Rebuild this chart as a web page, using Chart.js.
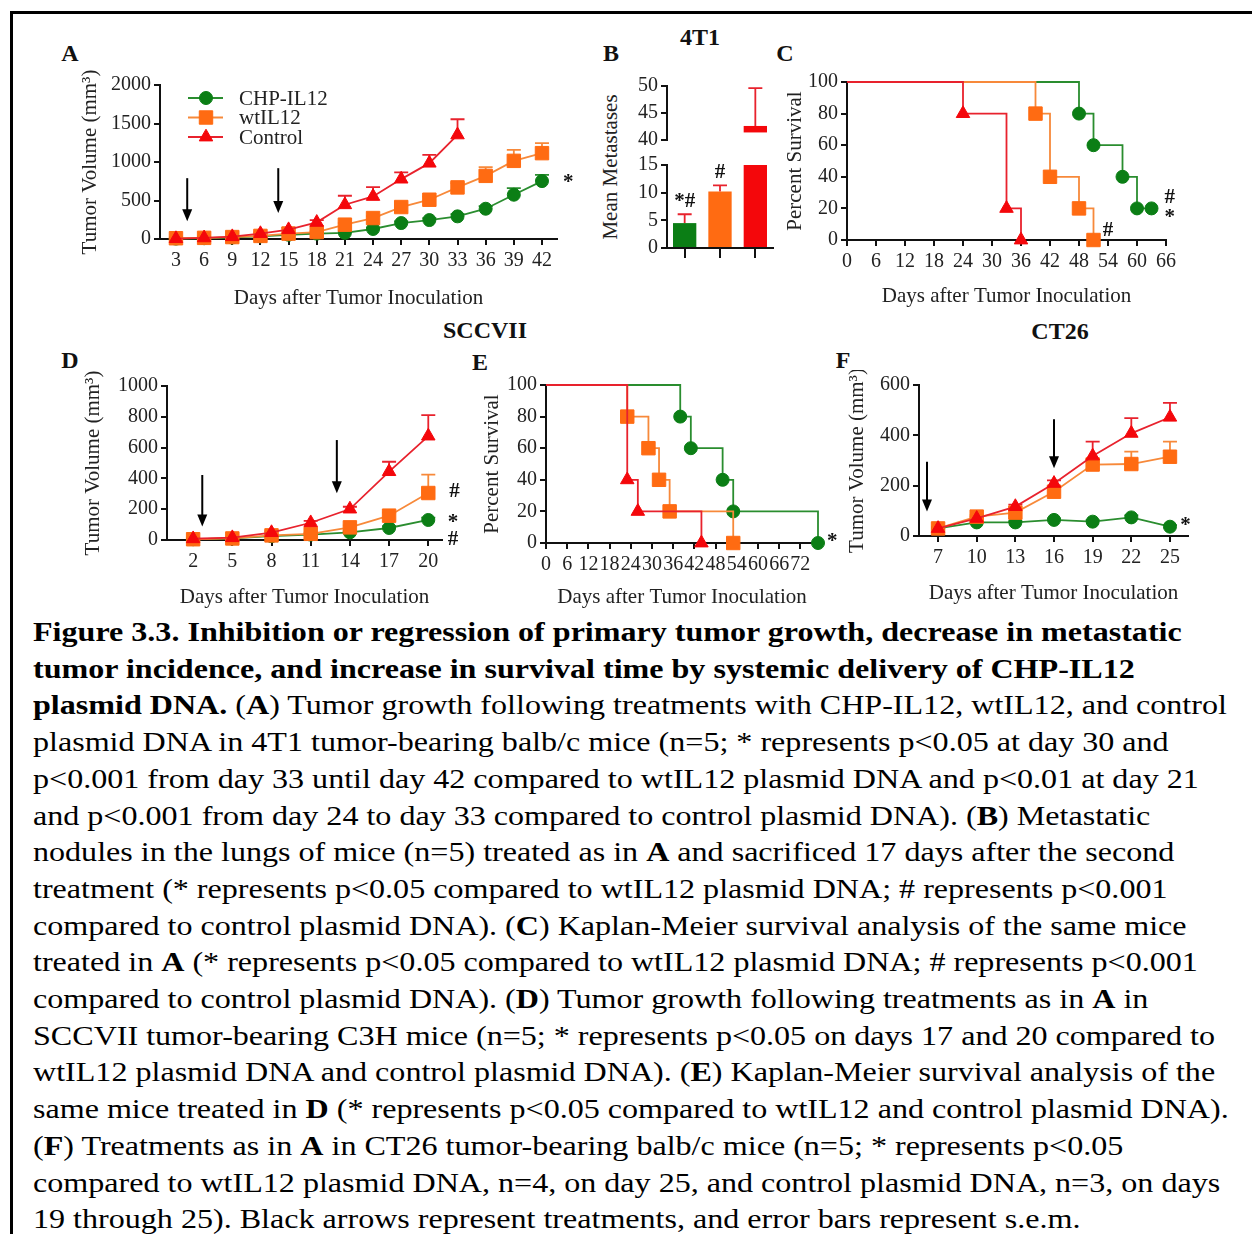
<!DOCTYPE html>
<html lang="en">
<head>
<meta charset="UTF-8">
<title>Figure 3.3</title>
<script src="https://cdn.jsdelivr.net/npm/chart.js"></script>
<style>
  body { margin: 0; background: #fff; overflow: hidden; width: 1252px; height: 1234px; position: relative;
         font-family: "Liberation Serif", "Times New Roman", serif; color: #111; }
  .frame { position: absolute; left: 10px; top: 11px; width: 1400px; height: 1400px;
           border-left: 3px solid #000; border-top: 3px solid #000; }
  canvas { position: absolute; }
  .lbl { position: absolute; font-weight: bold; font-size: 24px; transform: translate(-50%, -50%); white-space: nowrap; }
  .ytitle { position: absolute; font-size: 21px; color: #222; transform: translate(-50%, -50%) rotate(-90deg); white-space: nowrap; }
  .caption { position: absolute; left: 33px; top: 614px; font-size: 27px; line-height: 36.7px; white-space: nowrap; color: #000;
             transform: scaleX(1.188); transform-origin: 0 0; }
</style>
</head>
<body>
<div class="frame"></div>

<div class="lbl" style="left:70px;top:53px">A</div>
<div class="lbl" style="left:611px;top:53px">B</div>
<div class="lbl" style="left:700px;top:37px">4T1</div>
<div class="lbl" style="left:785px;top:53px">C</div>
<div class="lbl" style="left:485px;top:330px">SCCVII</div>
<div class="lbl" style="left:70px;top:360px">D</div>
<div class="lbl" style="left:480px;top:362px">E</div>
<div class="lbl" style="left:1060px;top:331px">CT26</div>
<div class="lbl" style="left:843px;top:360px">F</div>
<div class="ytitle" style="left:610px;top:167px">Mean Metastases</div>

<canvas id="chartA"></canvas>
<canvas id="chartBup"></canvas>
<canvas id="chartBlow"></canvas>
<canvas id="chartC"></canvas>
<canvas id="chartD"></canvas>
<canvas id="chartE"></canvas>
<canvas id="chartF"></canvas>

<div class="caption">
<div><b>Figure 3.3. Inhibition or regression of primary tumor growth, decrease in metastatic</b></div>
<div><b>tumor incidence, and increase in survival time by systemic delivery of CHP-IL12</b></div>
<div><b>plasmid DNA.</b> (<b>A</b>) Tumor growth following treatments with CHP-IL12, wtIL12, and control</div>
<div>plasmid DNA in 4T1 tumor-bearing balb/c mice (n=5; * represents p&lt;0.05 at day 30 and</div>
<div>p&lt;0.001 from day 33 until day 42 compared to wtIL12 plasmid DNA and p&lt;0.01 at day 21</div>
<div>and p&lt;0.001 from day 24 to day 33 compared to control plasmid DNA). (<b>B</b>) Metastatic</div>
<div>nodules in the lungs of mice (n=5) treated as in <b>A</b> and sacrificed 17 days after the second</div>
<div>treatment (* represents p&lt;0.05 compared to wtIL12 plasmid DNA; # represents p&lt;0.001</div>
<div>compared to control plasmid DNA). (<b>C</b>) Kaplan-Meier survival analysis of the same mice</div>
<div>treated in <b>A</b> (* represents p&lt;0.05 compared to wtIL12 plasmid DNA; # represents p&lt;0.001</div>
<div>compared to control plasmid DNA). (<b>D</b>) Tumor growth following treatments as in <b>A</b> in</div>
<div>SCCVII tumor-bearing C3H mice (n=5; * represents p&lt;0.05 on days 17 and 20 compared to</div>
<div>wtIL12 plasmid DNA and control plasmid DNA). (<b>E</b>) Kaplan-Meier survival analysis of the</div>
<div>same mice treated in <b>D</b> (* represents p&lt;0.05 compared to wtIL12 and control plasmid DNA).</div>
<div>(<b>F</b>) Treatments as in <b>A</b> in CT26 tumor-bearing balb/c mice (n=5; * represents p&lt;0.05</div>
<div>compared to wtIL12 plasmid DNA, n=4, on day 25, and control plasmid DNA, n=3, on days</div>
<div>19 through 25). Black arrows represent treatments, and error bars represent s.e.m.</div>
</div>

<script>
    // ---------- data ----------
    const seriesNames = ['CHP-IL12', 'wtIL12', 'Control'];

    // A - 4T1 tumor volume
    const daysA = [3, 6, 9, 12, 15, 18, 21, 24, 27, 30, 33, 36, 39, 42];
    const chpA = [5, 10, 20, 35, 55, 70, 80, 130, 207, 246, 294, 393, 575, 752];
    const wtA = [10, 15, 25, 40, 70, 90, 186, 272, 415, 510, 670, 820, 1015, 1115];
    const ctlA = [5, 15, 30, 70, 121, 216, 445, 553, 778, 985, 1352];
    const chpSemA = [2, 3, 4, 6, 8, 10, 12, 18, 22, 25, 30, 35, 85, 82];
    const wtSemA = [3, 4, 5, 8, 10, 12, 20, 25, 30, 40, 55, 113, 143, 129];
    const ctlSemA = [3, 5, 8, 15, 25, 30, 117, 121, 86, 108, 203];
    const treatA = [4.2, 13.9];
    const yTicksA = [0, 500, 1000, 1500, 2000];

    // B - lung metastases
    const metMeans = [4.5, 10.2, 42.6];
    const metSem = [1.6, 1.1, 7.0];
    const yTicksBlow = [0, 5, 10, 15];
    const yTicksBup = [40, 45, 50];

    // C - 4T1 survival (Kaplan-Meier)
    const kmDaysChpC = [0, 48, 51, 57, 60, 63];
    const kmPctChpC = [100, 80, 60, 40, 20, 20];
    const kmDaysWtC = [0, 39, 42, 48, 51];
    const kmPctWtC = [100, 80, 40, 20, 0];
    const kmDaysCtlC = [0, 24, 33, 36];
    const kmPctCtlC = [100, 80, 20, 0];
    const xTicksC = [0, 6, 12, 18, 24, 30, 36, 42, 48, 54, 60, 66];
    const yTicksSurv = [0, 20, 40, 60, 80, 100];

    // D - SCCVII tumor volume
    const daysD = [2, 5, 8, 11, 14, 17, 20];
    const chpD = [5, 10, 25, 35, 50, 78, 130];
    const wtD = [5, 10, 30, 40, 82, 158, 305];
    const ctlD = [8, 15, 48, 112, 201, 444, 675];
    const chpSemD = [2, 3, 5, 6, 8, 12, 15];
    const wtSemD = [2, 3, 6, 8, 12, 20, 119];
    const ctlSemD = [2, 4, 8, 12, 15, 64, 136];
    const treatD = [2.7, 13.0];
    const yTicksD = [0, 200, 400, 600, 800, 1000];

    // E - SCCVII survival
    const kmDaysChpE = [0, 38, 41, 50, 53, 77];
    const kmPctChpE = [100, 80, 60, 40, 20, 0];
    const kmDaysWtE = [0, 23, 29, 32, 35, 53];
    const kmPctWtE = [100, 80, 60, 40, 20, 0];
    const kmDaysCtlE = [0, 23, 26, 44];
    const kmPctCtlE = [100, 40, 20, 0];
    const xTicksE = [0, 6, 12, 18, 24, 30, 36, 42, 48, 54, 60, 66, 72];

    // F - CT26 tumor volume
    const daysF = [7, 10, 13, 16, 19, 22, 25];
    const chpF = [30, 54, 54, 64, 57, 74, 37];
    const wtF = [30, 77, 93, 176, 284, 286, 315];
    const ctlF = [30, 70, 117, 209, 318, 408, 472];
    const chpSemF = [3, 5, 5, 6, 6, 8, 6];
    const wtSemF = [4, 6, 8, 12, 20, 49, 60];
    const ctlSemF = [4, 6, 8, 12, 57, 60, 57];
    const treatF = [6.14, 16.0];
    const yTicksF = [0, 200, 400, 600];

    // ---------- styles ----------
    const serif = '"Liberation Serif", "Times New Roman", serif';
    const tickFont = { family: serif, size: 20 };
    const GREEN = '#0b7e15', ORANGE = '#ff6b12', RED = '#f4070b';
    const GREEN_L = '#2a8d2f', ORANGE_L = '#f7893a', RED_L = '#e8222d';

    function fixedTicks(arr) {
        return s => { s.ticks = arr.map(v => ({ value: v })); };
    }

    function axis(min, max, ticks, title, titlePad, isY) {
        const a = {
            type: 'linear', min: min, max: max,
            afterBuildTicks: fixedTicks(ticks),
            grid: { display: true, drawOnChartArea: false, drawTicks: true, tickLength: 6, color: '#111', lineWidth: 2 },
            border: { display: true, color: '#111', width: 2 },
            ticks: { color: '#222', font: tickFont, padding: isY ? 3 : 4, maxRotation: 0, minRotation: 0, autoSkip: false, callback: v => String(v) }
        };
        if (title) {
            a.title = { display: true, text: title, color: '#222', font: { family: serif, size: 21 },
                        padding: isY ? { top: titlePad, bottom: 0 } : { top: 0, bottom: titlePad } };
        }
        return a;
    }

    function growth(label, xs, ys, sem, color, lineColor, style, r) {
        return {
            label: label,
            data: ys.map((y, i) => ({ x: xs[i], y: y })),
            sem: sem,
            borderColor: lineColor, backgroundColor: color, borderWidth: 1.8,
            pointStyle: style, pointRadius: r, pointBackgroundColor: color, pointBorderColor: color, pointBorderWidth: 1,
            clip: false
        };
    }

    function km(label, xs, ys, color, lineColor, style, r) {
        return {
            label: label,
            data: ys.map((y, i) => ({ x: xs[i], y: y })),
            stepped: true,
            borderColor: lineColor, backgroundColor: color, borderWidth: 1.8,
            pointStyle: style,
            pointRadius: ctx => ctx.dataIndex === 0 ? 0 : r,
            pointBackgroundColor: color, pointBorderColor: color, pointBorderWidth: 1,
            clip: false
        };
    }

    // ---------- plugins ----------
    const errorBars = {
        id: 'errorBars',
        beforeDatasetsDraw(chart) {
            const { ctx, chartArea: a } = chart;
            ctx.save();
            ctx.beginPath();
            ctx.rect(a.left - 30, a.top - 1, a.right - a.left + 60, a.bottom - a.top + 2);
            ctx.clip();
            chart.data.datasets.forEach((ds, i) => {
                if (!ds.sem) return;
                const meta = chart.getDatasetMeta(i);
                const ys = chart.scales[meta.yAxisID];
                meta.data.forEach((el, j) => {
                    const raw = ds.data[j];
                    const v = raw !== null && typeof raw === 'object' ? raw.y : raw;
                    if (v == null || !ds.sem[j]) return;
                    const y0 = ys.getPixelForValue(v), y1 = ys.getPixelForValue(v + ds.sem[j]);
                    ctx.strokeStyle = ds.errColor || ds.borderColor;
                    ctx.lineWidth = 1.8;
                    ctx.beginPath();
                    ctx.moveTo(el.x, y0); ctx.lineTo(el.x, y1);
                    ctx.moveTo(el.x - 7, y1); ctx.lineTo(el.x + 7, y1);
                    ctx.stroke();
                });
            });
            ctx.restore();
        }
    };

    function arrowPlugin(days, from, to) {
        return {
            id: 'arrows',
            afterDatasetsDraw(chart) {
                const { ctx, scales: { x, y } } = chart;
                ctx.save();
                ctx.strokeStyle = '#000'; ctx.fillStyle = '#000'; ctx.lineWidth = 2;
                days.forEach((d, i) => {
                    const px = x.getPixelForValue(d);
                    const y0 = y.getPixelForValue(from[i]), y1 = y.getPixelForValue(to[i]);
                    ctx.beginPath(); ctx.moveTo(px, y0); ctx.lineTo(px, y1 - 8); ctx.stroke();
                    ctx.beginPath(); ctx.moveTo(px - 5, y1 - 12); ctx.lineTo(px + 5, y1 - 12); ctx.lineTo(px, y1); ctx.closePath(); ctx.fill();
                });
                ctx.restore();
            }
        };
    }

    function marksPlugin(items) {
        return {
            id: 'marks',
            afterDraw(chart) {
                const { ctx, scales: { x, y } } = chart;
                ctx.save();
                ctx.fillStyle = '#111';
                ctx.font = 'bold 21px ' + serif;
                ctx.textAlign = 'center'; ctx.textBaseline = 'middle';
                items.forEach(m => ctx.fillText(m.text, x.getPixelForValue(m.x), y.getPixelForValue(m.y)));
                ctx.restore();
            }
        };
    }

    function legendPlugin(rows) {
        return {
            id: 'legendA',
            afterDraw(chart) {
                const { ctx, chartArea: a } = chart;
                ctx.save();
                rows.forEach((r, i) => {
                    const y = a.top + 13 + i * 19.5;
                    ctx.strokeStyle = r.line; ctx.lineWidth = 1.8;
                    ctx.beginPath(); ctx.moveTo(a.left + 28, y); ctx.lineTo(a.left + 63, y); ctx.stroke();
                    ctx.fillStyle = r.color; ctx.strokeStyle = r.color; ctx.lineWidth = 1;
                    Chart.helpers.drawPoint(ctx, { pointStyle: r.style, radius: r.r, rotation: 0, borderWidth: 1 }, a.left + 46, y);
                    ctx.fillStyle = '#222';
                    ctx.font = '21px ' + serif;
                    ctx.textAlign = 'left'; ctx.textBaseline = 'middle';
                    ctx.fillText(r.label, a.left + 79, y + 1);
                });
                ctx.restore();
            }
        };
    }

    // fixes canvas box and plot area (page pixels)
    function panel(id, box, area, config) {
        const cv = document.getElementById(id);
        cv.width = box.w; cv.height = box.h;
        cv.style.left = box.x + 'px'; cv.style.top = box.y + 'px';
        const o = config.options;
        o.responsive = false;
        o.animation = false;
        o.layout = { padding: { top: area.t - box.y, right: box.x + box.w - area.r, left: 0, bottom: 0 } };
        o.scales.y.afterFit = s => { s.width = area.l - box.x; };
        if (o.scales.x.display === false) o.layout.padding.bottom = box.y + box.h - area.b;
        else o.scales.x.afterFit = s => { s.height = box.y + box.h - area.b; };
        o.plugins = Object.assign({ legend: { display: false }, tooltip: { enabled: false } }, o.plugins || {});
        config.plugins = [errorBars].concat(config.plugins || []);
        return new Chart(cv, config);
    }

    const legendRows = [
        { label: seriesNames[0], color: GREEN, line: GREEN_L, style: 'circle', r: 6.5 },
        { label: seriesNames[1], color: ORANGE, line: ORANGE_L, style: 'rect', r: 9.5 },
        { label: seriesNames[2], color: RED, line: RED_L, style: 'triangle', r: 7.8 }
    ];

    // ---------- A ----------
    panel('chartA', { x: 60, y: 40, w: 530, h: 275 }, { l: 160, t: 85, r: 557, b: 239 }, {
        type: 'line',
        data: { datasets: [
            growth(seriesNames[2], daysA, ctlA, ctlSemA, RED, RED_L, 'triangle', 7.8),
            growth(seriesNames[1], daysA, wtA, wtSemA, ORANGE, ORANGE_L, 'rect', 9.5),
            growth(seriesNames[0], daysA, chpA, chpSemA, GREEN, GREEN_L, 'circle', 6.5)
        ] },
        options: { scales: {
            x: axis(1.3, 43.6, daysA, 'Days after Tumor Inoculation', 4, false),
            y: axis(0, 2000, yTicksA, 'Tumor Volume (mm³)', 18, true)
        } },
        plugins: [arrowPlugin(treatA, [790, 920], [230, 337]), marksPlugin([{ x: 44.8, y: 727, text: '*' }]), legendPlugin(legendRows)]
    });

    // ---------- B (broken axis: two stacked panels) ----------
    function barAxisX(show) {
        return {
            type: 'category', display: show, offset: true,
            grid: { display: true, offset: false, drawOnChartArea: false, drawTicks: true, tickLength: 10, color: '#111', lineWidth: 2 },
            border: { display: true, color: '#111', width: 2 },
            ticks: { display: true, callback: () => '', font: tickFont }
        };
    }
    const barColors = [GREEN, ORANGE, RED];
    const errColors = [GREEN_L, ORANGE_L, RED_L];

    panel('chartBlow', { x: 630, y: 146, w: 160, h: 124 }, { l: 667, t: 165, r: 773, b: 248 }, {
        type: 'bar',
        data: { labels: seriesNames, datasets: [{
            data: metMeans, sem: metSem, backgroundColor: barColors, borderColor: errColors, borderWidth: 0,
            errColor: RED_L, barPercentage: 0.66, categoryPercentage: 1
        }] },
        options: { scales: { x: barAxisX(true), y: axis(0, 15, yTicksBlow, null, 0, true) } },
        plugins: [marksPlugin([{ x: 0, y: 8.3, text: '*#' }, { x: 1, y: 13.6, text: '#' }])]
    });

    panel('chartBup', { x: 630, y: 66, w: 160, h: 90 }, { l: 667, t: 86, r: 773, b: 140 }, {
        type: 'bar',
        data: { labels: seriesNames, datasets: [{
            data: metMeans.map(v => v >= 40 ? v : null), sem: metSem, backgroundColor: barColors, borderWidth: 0,
            errColor: RED_L, base: 41.4, barPercentage: 0.66, categoryPercentage: 1
        }] },
        options: { scales: { x: barAxisX(false), y: axis(40, 50, yTicksBup, null, 0, true) } }
    });

    // ---------- C ----------
    panel('chartC', { x: 770, y: 60, w: 420, h: 255 }, { l: 847, t: 82, r: 1166, b: 240 }, {
        type: 'line',
        data: { datasets: [
            km(seriesNames[2], kmDaysCtlC, kmPctCtlC, RED, RED_L, 'triangle', 7.8),
            km(seriesNames[1], kmDaysWtC, kmPctWtC, ORANGE, ORANGE_L, 'rect', 9.5),
            km(seriesNames[0], kmDaysChpC, kmPctChpC, GREEN, GREEN_L, 'circle', 6.5)
        ] },
        options: { scales: {
            x: axis(0, 66, xTicksC, 'Days after Tumor Inoculation', 6, false),
            y: axis(0, 100, yTicksSurv, 'Percent Survival', 13, true)
        } },
        plugins: [marksPlugin([{ x: 54, y: 6, text: '#' }, { x: 66.8, y: 27, text: '#' }, { x: 66.8, y: 14, text: '*' }])]
    });

    // ---------- D ----------
    panel('chartD', { x: 60, y: 370, w: 420, h: 240 }, { l: 167, t: 386, r: 442, b: 540 }, {
        type: 'line',
        data: { datasets: [
            growth(seriesNames[2], daysD, ctlD, ctlSemD, RED, RED_L, 'triangle', 7.8),
            growth(seriesNames[1], daysD, wtD, wtSemD, ORANGE, ORANGE_L, 'rect', 9.5),
            growth(seriesNames[0], daysD, chpD, chpSemD, GREEN, GREEN_L, 'circle', 6.5)
        ] },
        options: { scales: {
            x: axis(0, 21.05, daysD, 'Days after Tumor Inoculation', 0, false),
            y: axis(0, 1000, yTicksD, 'Tumor Volume (mm³)', 21, true)
        } },
        plugins: [arrowPlugin(treatD, [422, 649], [87, 303]),
                  marksPlugin([{ x: 22.0, y: 312, text: '#' }, { x: 21.9, y: 115, text: '*' }, { x: 21.9, y: 0, text: '#' }])]
    });

    // ---------- E ----------
    panel('chartE', { x: 470, y: 370, w: 380, h: 240 }, { l: 546, t: 384, r: 818, b: 543 }, {
        type: 'line',
        data: { datasets: [
            km(seriesNames[2], kmDaysCtlE, kmPctCtlE, RED, RED_L, 'triangle', 7.8),
            km(seriesNames[1], kmDaysWtE, kmPctWtE, ORANGE, ORANGE_L, 'rect', 9.5),
            km(seriesNames[0], kmDaysChpE, kmPctChpE, GREEN, GREEN_L, 'circle', 6.5)
        ] },
        options: { scales: {
            x: axis(0, 77, xTicksE, 'Days after Tumor Inoculation', 0, false),
            y: axis(0, 100, yTicksSurv, 'Percent Survival', 10, true)
        } },
        plugins: [marksPlugin([{ x: 81, y: 1, text: '*' }])]
    });

    // ---------- F ----------
    panel('chartF', { x: 830, y: 370, w: 400, h: 240 }, { l: 919, t: 385, r: 1188, b: 536 }, {
        type: 'line',
        data: { datasets: [
            growth(seriesNames[2], daysF, ctlF, ctlSemF, RED, RED_L, 'triangle', 7.8),
            growth(seriesNames[1], daysF, wtF, wtSemF, ORANGE, ORANGE_L, 'rect', 9.5),
            growth(seriesNames[0], daysF, chpF, chpSemF, GREEN, GREEN_L, 'circle', 6.5)
        ] },
        options: { scales: {
            x: axis(5.52, 26.4, daysF, 'Days after Tumor Inoculation', 4, false),
            y: axis(0, 600, yTicksF, 'Tumor Volume (mm³)', 15, true)
        } },
        plugins: [arrowPlugin(treatF, [295, 464], [97, 269]), marksPlugin([{ x: 26.2, y: 40, text: '*' }])]
    });
</script>
</body>
</html>
